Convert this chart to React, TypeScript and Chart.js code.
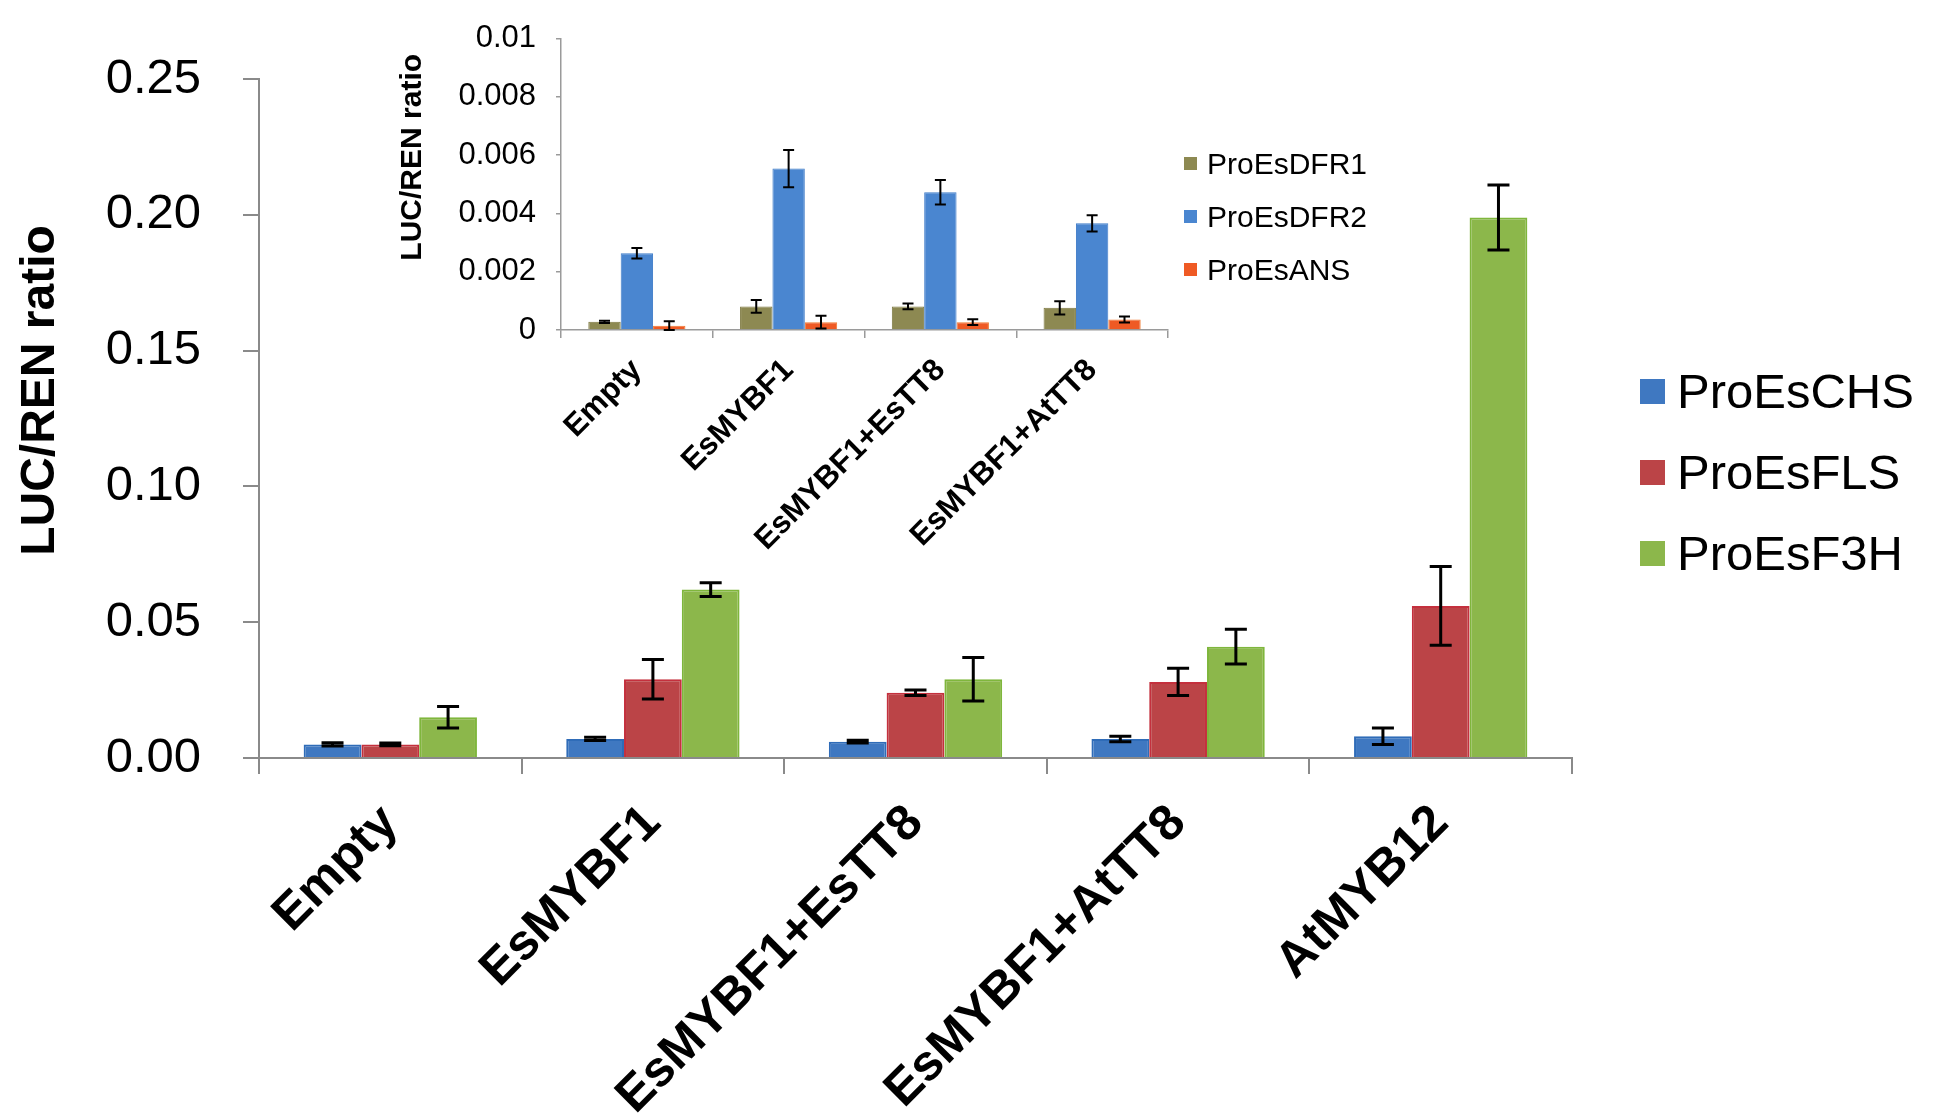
import { useEffect, useRef } from "react";
import { Chart, registerables } from "chart.js";

Chart.register(...registerables);

const FONT = "'Liberation Sans', Arial, sans-serif";

// main chart
const categories = ["Empty", "EsMYBF1", "EsMYBF1+EsTT8", "EsMYBF1+AtTT8", "AtMYB12"];
const chsValues = [0.005, 0.007, 0.006, 0.007, 0.008];
const chsErrors = [0.0006, 0.0006, 0.0005, 0.001, 0.003];
const flsValues = [0.005, 0.029, 0.024, 0.028, 0.056];
const flsErrors = [0.0005, 0.0073, 0.001, 0.005, 0.0145];
const f3hValues = [0.015, 0.062, 0.029, 0.041, 0.199];
const f3hErrors = [0.004, 0.0025, 0.008, 0.0064, 0.012];

// inset chart
const insetCategories = ["Empty", "EsMYBF1", "EsMYBF1+EsTT8", "EsMYBF1+AtTT8"];
const dfr1Values = [0.00028, 0.00081, 0.00081, 0.00076];
const dfr1Errors = [0.00004, 0.00022, 0.0001, 0.00023];
const dfr2Values = [0.00263, 0.00554, 0.00473, 0.00366];
const dfr2Errors = [0.00018, 0.00064, 0.00042, 0.00028];
const ansValues = [0.00015, 0.00027, 0.00027, 0.00036];
const ansErrors = [0.00015, 0.00022, 0.0001, 0.0001];

const mainLegend = [
  { label: "ProEsCHS", color: "#3f78c1" },
  { label: "ProEsFLS", color: "#bb4447" },
  { label: "ProEsF3H", color: "#8cb74b" },
];
const insetLegend = [
  { label: "ProEsDFR1", color: "#8d8952" },
  { label: "ProEsDFR2", color: "#4a86d0" },
  { label: "ProEsANS", color: "#ef5a24" },
];

const errorBarPlugin = {
  id: "errorBars",
  afterDatasetsDraw(chart: any, _args: any, opts: any) {
    const ctx = chart.ctx;
    const y = chart.scales.y;
    ctx.save();
    ctx.strokeStyle = "#000";
    ctx.lineWidth = opts.lineWidth || 2;
    chart.data.datasets.forEach((ds: any, di: number) => {
      const meta = chart.getDatasetMeta(di);
      meta.data.forEach((bar: any, i: number) => {
        const v = ds.data[i];
        const e = ds.errors[i];
        const top = y.getPixelForValue(v + e);
        const bot = y.getPixelForValue(Math.max(v - e, 0));
        const half = (opts.cap || 10) / 2;
        ctx.beginPath();
        ctx.moveTo(bar.x, top);
        ctx.lineTo(bar.x, bot);
        ctx.moveTo(bar.x - half, top);
        ctx.lineTo(bar.x + half, top);
        ctx.moveTo(bar.x - half, bot);
        ctx.lineTo(bar.x + half, bot);
        ctx.stroke();
      });
    });
    ctx.restore();
  },
};

// y-axis title, drawn a little above the middle of the plot like the original
const yTitlePlugin = {
  id: "yTitle",
  afterDraw(chart: any, _args: any, opts: any) {
    const { ctx, chartArea } = chart;
    ctx.save();
    ctx.font = opts.font;
    ctx.fillStyle = "#000";
    ctx.textAlign = "center";
    ctx.textBaseline = "middle";
    ctx.translate(opts.x, (chartArea.top + chartArea.bottom) / 2 + opts.shift);
    ctx.rotate(-Math.PI / 2);
    ctx.fillText(opts.text, 0, 0);
    ctx.restore();
  },
};

function MainChart() {
  const chartRef = useRef<HTMLCanvasElement>(null);
  const chartInstance = useRef<Chart | null>(null);

  useEffect(() => {
    if (!chartRef.current) return;
    const ctx = chartRef.current.getContext("2d");
    if (!ctx) return;

    const mk = (label: string, data: number[], errors: number[], color: string, border: string) => ({
      label,
      data,
      errors,
      backgroundColor: color,
      borderColor: border,
      borderWidth: 2,
      barPercentage: 1,
      categoryPercentage: 0.66,
    });

    chartInstance.current = new Chart(ctx, {
      type: "bar",
      data: {
        labels: categories,
        datasets: [
          mk("ProEsCHS", chsValues, chsErrors, "#3f78c1", "#2f6cb8"),
          mk("ProEsFLS", flsValues, flsErrors, "#bb4447", "#c4303d"),
          mk("ProEsF3H", f3hValues, f3hErrors, "#8cb74b", "#7fb63c"),
        ] as any,
      },
      plugins: [errorBarPlugin, yTitlePlugin],
      options: {
        animation: false,
        responsive: false,
        layout: { padding: { top: 79, right: 361, left: 0, bottom: 0 } },
        plugins: {
          legend: { display: false },
          tooltip: { enabled: false },
          errorBars: { lineWidth: 3, cap: 22 },
          yTitle: { text: "LUC/REN ratio", font: `bold 48px ${FONT}`, x: 41, shift: -28 },
        } as any,
        scales: {
          x: {
            grid: { display: true, drawOnChartArea: false, tickLength: 16, color: "#8a8a8a", lineWidth: 2, offset: true },
            border: { color: "#8a8a8a", width: 2 },
            ticks: {
              color: "#000",
              font: { family: FONT, size: 50, weight: "bold" },
              minRotation: 45,
              maxRotation: 45,
              padding: 20,
              autoSkip: false,
            },
            afterFit: (scale: any) => {
              scale.height = 362;
            },
          },
          y: {
            min: 0,
            max: 0.25,
            grid: { display: true, drawOnChartArea: false, tickLength: 16, color: "#8a8a8a", lineWidth: 2 },
            border: { color: "#8a8a8a", width: 2 },
            ticks: {
              stepSize: 0.05,
              color: "#000",
              padding: 42,
              font: { family: FONT, size: 49 },
              callback: (value: any) => Number(value).toFixed(2),
            },
            afterFit: (scale: any) => {
              scale.width = 259;
            },
          },
        },
      },
    });

    return () => {
      if (chartInstance.current) {
        chartInstance.current.destroy();
      }
    };
  }, []);

  return <canvas ref={chartRef} width={1933} height={1120} style={{ position: "absolute", left: 0, top: 0 }} />;
}

function InsetChart() {
  const chartRef = useRef<HTMLCanvasElement>(null);
  const chartInstance = useRef<Chart | null>(null);

  useEffect(() => {
    if (!chartRef.current) return;
    const ctx = chartRef.current.getContext("2d");
    if (!ctx) return;

    const mk = (label: string, data: number[], errors: number[], color: string, border: string) => ({
      label,
      data,
      errors,
      backgroundColor: color,
      borderColor: border,
      borderWidth: 1,
      barPercentage: 1,
      categoryPercentage: 0.64,
    });

    chartInstance.current = new Chart(ctx, {
      type: "bar",
      data: {
        labels: insetCategories,
        datasets: [
          mk("ProEsDFR1", dfr1Values, dfr1Errors, "#8d8952", "#7c773f"),
          mk("ProEsDFR2", dfr2Values, dfr2Errors, "#4a86d0", "#3f7cc8"),
          mk("ProEsANS", ansValues, ansErrors, "#ef5a24", "#f07a30"),
        ] as any,
      },
      plugins: [errorBarPlugin, yTitlePlugin],
      options: {
        animation: false,
        responsive: false,
        layout: { padding: { top: 32, right: 2, left: 0, bottom: 0 } },
        plugins: {
          legend: { display: false },
          tooltip: { enabled: false },
          errorBars: { lineWidth: 2, cap: 11 },
          yTitle: { text: "LUC/REN ratio", font: `bold 30px ${FONT}`, x: 23, shift: -27 },
        } as any,
        scales: {
          x: {
            grid: { display: true, drawOnChartArea: false, tickLength: 8, color: "#9a9a9a", lineWidth: 1.5, offset: true },
            border: { color: "#9a9a9a", width: 1.5 },
            ticks: {
              color: "#000",
              font: { family: FONT, size: 31, weight: "bold" },
              minRotation: 45,
              maxRotation: 45,
              padding: 14,
              autoSkip: false,
            },
            afterFit: (scale: any) => {
              scale.height = 230;
            },
          },
          y: {
            min: 0,
            max: 0.01,
            grid: { display: true, drawOnChartArea: false, tickLength: 5, color: "#9a9a9a", lineWidth: 1.5 },
            border: { color: "#9a9a9a", width: 1.5 },
            ticks: {
              stepSize: 0.002,
              color: "#000",
              padding: 20,
              font: { family: FONT, size: 31 },
              callback: (value: any) => {
                const v = Number(value);
                if (v === 0) return "0";
                if (Math.abs(v - 0.01) < 1e-9) return "0.01";
                return v.toFixed(3);
              },
            },
            afterFit: (scale: any) => {
              scale.width = 171;
            },
          },
        },
      },
    });

    return () => {
      if (chartInstance.current) {
        chartInstance.current.destroy();
      }
    };
  }, []);

  return <canvas ref={chartRef} width={780} height={560} style={{ position: "absolute", left: 390, top: 0 }} />;
}

function Legend({
  items,
  left,
  top,
  rowHeight,
  box,
  gap,
  fontSize,
}: {
  items: { label: string; color: string }[];
  left: number;
  top: number;
  rowHeight: number;
  box: number;
  gap: number;
  fontSize: number;
}) {
  return (
    <div style={{ position: "absolute", left, top, fontFamily: FONT, fontSize, color: "#000" }}>
      {items.map((it) => (
        <div key={it.label} style={{ height: rowHeight, display: "flex", alignItems: "center" }}>
          <span style={{ display: "inline-block", width: box, height: box, background: it.color, marginRight: gap }} />
          <span style={{ lineHeight: 1 }}>{it.label}</span>
        </div>
      ))}
    </div>
  );
}

export default function App() {
  return (
    <div style={{ position: "fixed", left: 0, top: 0, width: 1933, height: 1120, background: "#fff", overflow: "hidden" }}>
      <MainChart />
      <InsetChart />
      <Legend items={mainLegend} left={1640} top={351} rowHeight={81} box={25} gap={12} fontSize={49} />
      <Legend items={insetLegend} left={1184} top={137} rowHeight={53} box={13} gap={10} fontSize={30} />
    </div>
  );
}
